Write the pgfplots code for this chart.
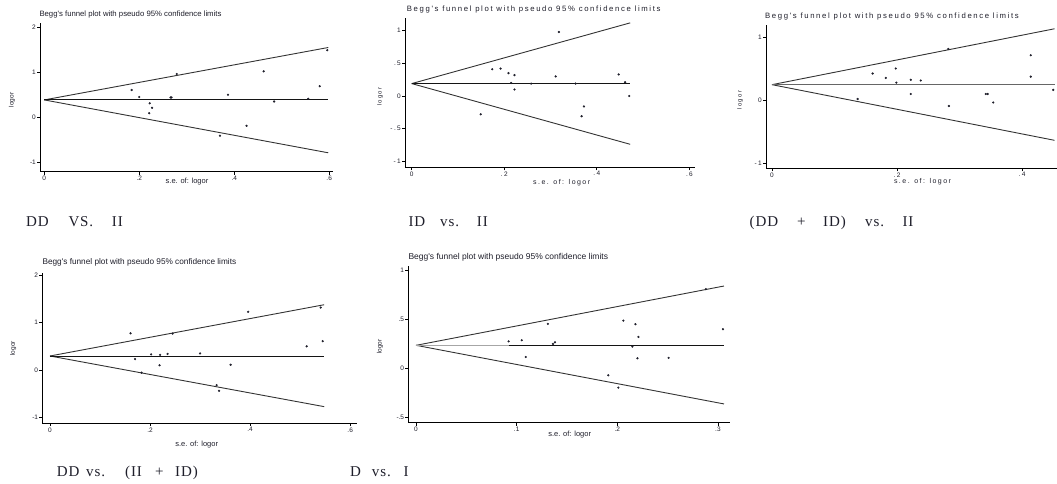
\documentclass[border=0pt]{standalone}
\usepackage{fontspec}
\usepackage{pgfplots}
\pgfplotsset{compat=1.18}
\newfontfamily\tsans{Liberation Sans}
\newfontfamily\wsans[LetterSpace=21]{Liberation Sans}
\newfontfamily\tserif[LetterSpace=6]{Liberation Serif}
\definecolor{ink}{HTML}{1E1E2A}
\definecolor{fl}{HTML}{333333}
\definecolor{cl}{HTML}{141414}
\pgfplotsset{
  funnel/.style={
    scale only axis, anchor=south west,
    axis lines=left, axis line style={-, line width=0.9pt, black},
    tick align=outside, major tick length=3pt,
    tick style={line width=0.8pt, black},
    ticklabel style={text=ink, inner sep=1pt, font=\fontsize{6.5}{7}\tsans},
    clip=false,
  },
  wide/.style={ticklabel style={font=\fontsize{6.5}{7}\wsans}},
  dots/.style={only marks, mark=*, mark size=0.9pt, ink},
  fline/.style={fl, line width=0.9pt},
  cline/.style={cl, line width=0.9pt},
}
\begin{document}
\begin{tikzpicture}
\useasboundingbox (0,0) rectangle (1057pt,484pt);
% ---------- Panel 1: DD vs II
\begin{axis}[funnel, at={(40pt,312.3pt)}, width=293pt, height=148.4pt,
  xmin=-0.009, xmax=0.608, ymin=-1.2, ymax=2.098,
  xtick={0,0.2,0.4,0.6}, xticklabels={0,.2,.4,.6},
  ytick={-1,0,1,2}, yticklabels={-1,0,1,2}]
\addplot[fline] coordinates {(0,0.395) (0.598,1.56)};
\addplot[fline] coordinates {(0,0.395) (0.598,-0.78)};
\addplot[cline] coordinates {(0,0.395) (0.598,0.395)};
\addplot[dots] coordinates {
(0.184,0.615) (0.200,0.46) (0.222,0.32) (0.227,0.22) (0.221,0.10)
(0.266,0.45) (0.268,0.45) (0.279,0.97) (0.387,0.51) (0.370,-0.40)
(0.426,-0.18) (0.462,1.03) (0.484,0.36) (0.556,0.42) (0.580,0.70) (0.596,1.50)};
\end{axis}
% ---------- Panel 2: ID vs II
\begin{axis}[funnel, wide, at={(405pt,316.7pt)}, width=290pt, height=149pt,
  xmin=-0.0145, xmax=0.612, ymin=-1.092, ymax=1.19,
  xtick={0,0.2,0.4,0.6}, xticklabels={0,.2,.4,.6},
  ytick={-1,-0.5,0,0.5,1}, yticklabels={-1,-.5,0,.5,1}]
\addplot[fline] coordinates {(0,0.19) (0.472,1.12)};
\addplot[fline] coordinates {(0,0.19) (0.472,-0.74)};
\addplot[cline] coordinates {(0,0.19) (0.472,0.19)};
\addplot[dots] coordinates {
(0.149,-0.28) (0.174,0.41) (0.192,0.42) (0.209,0.35) (0.215,0.20)
(0.222,0.32) (0.222,0.10) (0.258,0.19) (0.311,0.30) (0.318,0.98)
(0.354,0.19) (0.367,-0.31) (0.372,-0.16) (0.447,0.33) (0.461,0.21) (0.470,0.0)};
\end{axis}
% ---------- Panel 3: (DD+ID) vs II
\begin{axis}[funnel, wide, at={(766pt,315.7pt)}, width=291pt, height=143.3pt,
  xmin=-0.0096, xmax=0.456, ymin=-1.084, ymax=1.19,
  xtick={0,0.2,0.4}, xticklabels={0,.2,.4},
  ytick={-1,0,1}, yticklabels={-1,0,1}]
\addplot[fline] coordinates {(0,0.243) (0.452,1.13)};
\addplot[fline] coordinates {(0,0.243) (0.452,-0.64)};
\addplot[gray!80!black, line width=1.1pt] coordinates {(0,0.243) (0.452,0.243)};
\addplot[dots] coordinates {
(0.137,0.016) (0.161,0.42) (0.182,0.35) (0.198,0.50) (0.199,0.275)
(0.222,0.32) (0.222,0.095) (0.238,0.31) (0.282,0.81) (0.283,-0.095)
(0.342,0.095) (0.345,0.095) (0.354,-0.04) (0.414,0.71) (0.414,0.37) (0.450,0.16)};
\end{axis}
% ---------- Panel 4: DD vs (II+ID)
\begin{axis}[funnel, at={(42.3pt,60.7pt)}, width=314.4pt, height=150.6pt,
  xmin=-0.0154, xmax=0.613, ymin=-1.127, ymax=2.057,
  xtick={0,0.2,0.4,0.6}, xticklabels={0,.2,.4,.6},
  ytick={-1,0,1,2}, yticklabels={-1,0,1,2}]
\addplot[fline] coordinates {(0,0.296) (0.548,1.38)};
\addplot[fline] coordinates {(0,0.296) (0.548,-0.775)};
\addplot[cline] coordinates {(0,0.296) (0.548,0.296)};
\addplot[dots] coordinates {
(0.161,0.775) (0.170,0.23) (0.183,-0.056) (0.202,0.33) (0.220,0.32)
(0.219,0.10) (0.235,0.34) (0.245,0.77) (0.300,0.35) (0.333,-0.32)
(0.338,-0.44) (0.361,0.11) (0.396,1.23) (0.513,0.50) (0.541,1.32) (0.545,0.61)};
\end{axis}
% ---------- Panel 5: D vs I
\begin{axis}[funnel, at={(408.3pt,61.3pt)}, width=321.7pt, height=156.7pt,
  xmin=-0.0077, xmax=0.312, ymin=-0.557, ymax=1.047,
  xtick={0,0.1,0.2,0.3}, xticklabels={0,.1,.2,.3},
  ytick={-0.5,0,0.5,1}, yticklabels={-.5,0,.5,1}]
\addplot[fline] coordinates {(0,0.235) (0.306,0.842)};
\addplot[fline] coordinates {(0,0.235) (0.306,-0.365)};
\addplot[gray!70, line width=0.9pt] coordinates {(0,0.235) (0.092,0.235)};
\addplot[cline] coordinates {(0.092,0.235) (0.306,0.235)};
\addplot[dots] coordinates {
(0.092,0.276) (0.105,0.287) (0.109,0.116) (0.131,0.454) (0.136,0.249)
(0.138,0.266) (0.191,-0.072) (0.201,-0.198) (0.206,0.488) (0.215,0.222)
(0.218,0.451) (0.221,0.321) (0.220,0.102) (0.251,0.106) (0.288,0.81) (0.305,0.40)};
\end{axis}
% ---------- titles
\node[anchor=west, inner sep=0, text=ink, font=\fontsize{7.75}{9}\tsans] at (39.3pt,469pt) {Begg's funnel plot with pseudo 95\% confidence limits};
\node[anchor=west, inner sep=0, text=ink, font=\fontsize{7.75}{9}\wsans] at (406.7pt,474pt) {Begg's funnel plot with pseudo 95\% confidence limits};
\node[anchor=west, inner sep=0, text=ink, font=\fontsize{7.75}{9}\wsans] at (765pt,467.3pt) {Begg's funnel plot with pseudo 95\% confidence limits};
\node[anchor=west, inner sep=0, text=ink, font=\fontsize{8.25}{9}\tsans] at (42.3pt,221.3pt) {Begg's funnel plot with pseudo 95\% confidence limits};
\node[anchor=west, inner sep=0, text=ink, font=\fontsize{8.5}{9}\tsans] at (408.3pt,226.7pt) {Begg's funnel plot with pseudo 95\% confidence limits};
% ---------- x axis titles
\node[inner sep=0, text=ink, font=\fontsize{7.5}{9}\tsans] at (187pt,302pt) {s.e. of: logor};
\node[inner sep=0, text=ink, font=\fontsize{7}{9}\wsans] at (561.7pt,301.7pt) {s.e. of: logor};
\node[inner sep=0, text=ink, font=\fontsize{7}{9}\wsans] at (922.5pt,302.3pt) {s.e. of: logor};
\node[inner sep=0, text=ink, font=\fontsize{7.5}{9}\tsans] at (196.7pt,39.7pt) {s.e. of: logor};
\node[inner sep=0, text=ink, font=\fontsize{7.5}{9}\tsans] at (569.7pt,49pt) {s.e. of: logor};
% ---------- y axis titles
\node[rotate=90, inner sep=0, text=ink, font=\fontsize{6.5}{7}\tsans] at (12pt,384pt) {logor};
\node[rotate=90, inner sep=0, text=ink, font=\fontsize{6}{7}\wsans] at (380pt,387.3pt) {logor};
\node[rotate=90, inner sep=0, text=ink, font=\fontsize{6}{7}\wsans] at (740pt,384pt) {logor};
\node[rotate=90, inner sep=0, text=ink, font=\fontsize{6.5}{7}\tsans] at (13.3pt,135.7pt) {logor};
\node[rotate=90, inner sep=0, text=ink, font=\fontsize{6.5}{7}\tsans] at (380pt,137.3pt) {logor};
% ---------- comparison captions
\begin{scope}[every node/.style={anchor=base west, inner sep=0, text=ink, font=\fontsize{15}{16}\tserif}]
\node at (26pt,257.3pt) {DD};
\node at (68.3pt,257.3pt) {VS.};
\node at (111.7pt,257.3pt) {II};
\node at (408.3pt,257.3pt) {ID};
\node at (440pt,257.3pt) {vs.};
\node at (476.7pt,257.3pt) {II};
\node at (749.5pt,257.3pt) {(DD};
\node at (797pt,257.3pt) {+};
\node at (823pt,257.3pt) {ID)};
\node at (865pt,257.3pt) {vs.};
\node at (902.4pt,257.3pt) {II};
\node at (56.7pt,7.3pt) {DD};
\node at (86pt,7.3pt) {vs.};
\node at (125pt,7.3pt) {(II};
\node at (155pt,7.3pt) {+};
\node at (175pt,7.3pt) {ID)};
\node at (350pt,7.3pt) {D};
\node at (371.7pt,7.3pt) {vs.};
\node at (403.3pt,7.3pt) {I};
\end{scope}
\end{tikzpicture}
\end{document}
